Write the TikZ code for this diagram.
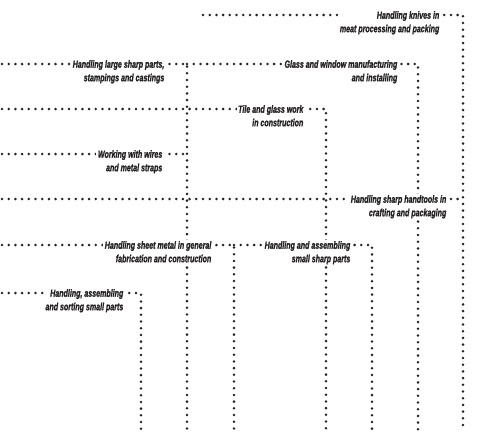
\documentclass[tikz,border=0pt]{standalone}
\usepackage{fontspec}
\usepackage{xcolor}
\usepackage{tikz}
\usetikzlibrary{positioning, calc}
\newfontfamily\tagfont[FakeStretch=0.68, FakeBold=1.2, UprightFont={* Bold Italic}]{Liberation Sans}
\definecolor{inkgray}{rgb}{0.14, 0.13, 0.13}

\begin{document}
\begin{tikzpicture}[x=1pt, y=-1pt,
    dotline/.style={inkgray, line width=2.8pt, line cap=round, dash pattern=on 0pt off 6.7pt},
    tag/.style={anchor=north east, align=right, fill=white, inner sep=1.5pt, text=inkgray,
                font=\tagfont\fontsize{10.4}{13.5}\selectfont}]
        \useasboundingbox (0,0) rectangle (481,431);
        % Start points, corners and bottom ends of the dotted runs
        \coordinate (s1) at (203,15);  \coordinate (b1) at (463,431);
        \coordinate (s2) at (2,64);    \coordinate (b2) at (187,431);
        \coordinate (s3) at (187,64);  \coordinate (b3) at (418,431);
        \coordinate (s4) at (2,109);   \coordinate (b4) at (326,431);
        \coordinate (s5) at (2,154);   \coordinate (e5) at (187,154);
        \coordinate (s6) at (2,199);   \coordinate (e6) at (463,199);
        \coordinate (s7) at (2,245);   \coordinate (b7) at (234,431);
        \coordinate (s8) at (234,245); \coordinate (b8) at (372,431);
        \coordinate (s9) at (2,293);   \coordinate (b9) at (141,431);
        % Dotted runs
        \draw [dotline] (s1) -| (b1);
        \draw [dotline] (s2) -| (b2);
        \draw [dotline] (s3) -| (b3);
        \draw [dotline] (s4) -| (b4);
        \draw [dotline] (s5) -- (e5);
        \draw [dotline] (s6) -- (e6);
        \draw [dotline] (s7) -| (b7);
        \draw [dotline] (s8) -| (b8);
        \draw [dotline] (s9) -| (b9);
        % Labels (first line sits on its dotted run)
        \node [tag] (knives) at (441,9.5) {Handling knives in\\meat processing and packing};
        \node [tag] (large) at (166,58.5) {Handling large sharp parts,\\stampings and castings};
        \node [tag] (glass) at (399,58.5) {Glass and window manufacturing\\and installing};
        \node [tag] (tile) at (305,103.5) {Tile and glass work\\in construction};
        \node [tag] (wires) at (164,148.5) {Working with wires\\and metal straps};
        \node [tag] (handtools) at (448,193.5) {Handling sharp handtools in\\crafting and packaging\hspace{8pt}};
        \node [tag] (sheet) at (213,239.5) {Handling sheet metal in general\\fabrication and construction};
        \node [tag] (smallsharp) at (352,239.5) {Handling and assembling\\small sharp parts};
        \node [tag] (sorting) at (125,287.5) {Handling, assembling\\and sorting small parts};
    \end{tikzpicture}
\end{document}
